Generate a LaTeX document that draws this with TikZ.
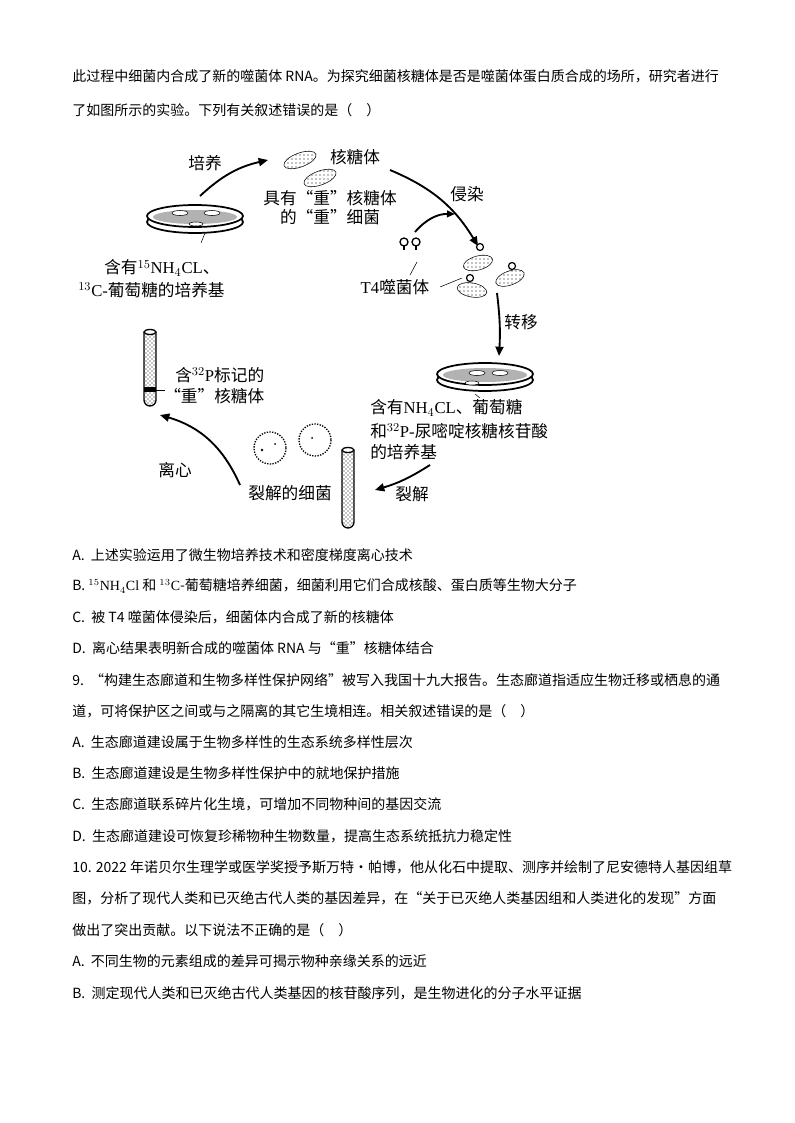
\documentclass[tikz,border=0pt]{standalone}
\usepackage{fontspec}
\setmainfont{Liberation Serif}
\newfontfamily\cjk{Noto Sans CJK SC}
\usetikzlibrary{arrows.meta,patterns}
\begin{document}
\begin{tikzpicture}[x=0.75pt,y=-0.75pt,
 txt/.style={font=\cjk\fontsize{10.5}{12}\selectfont,anchor=west,inner sep=0},
 dg/.style={font=\cjk\fontsize{12.5}{14}\selectfont,inner sep=0},
 arr/.style={line width=1.4pt,-{Triangle[length=7pt,width=6pt]}},
 dish/.style={line width=1.3pt,fill=white}]
\useasboundingbox (0,0) rectangle (794,1123);
% text above
\node[txt] (t1) at (72,76) {此过程中细菌内合成了新的噬菌体 RNA。为探究细菌核糖体是否是噬菌体蛋白质合成的场所，研究者进行};
\node[txt] (t2) at (72,110) {了如图所示的实验。下列有关叙述错误的是（\quad ）};
% dish 1
\draw[dish] (195,222) ellipse (48 and 11);
\draw[dish] (195,216) ellipse (48 and 11);
\fill[gray!60] (195,217) ellipse (42 and 7);
\draw[fill=white] (180,213) ellipse (8 and 2.5) (212,213) ellipse (8 and 2.5) (196,224) ellipse (7 and 2);
\draw (205,233)--(201,243);
\node[dg] (pe) at (205,163) {培养};
\draw[arr] (200,196) to[bend left=15] (268,160);
% ribosomes
\foreach \p in {(300,160),(320,178)} {\draw[pattern=dots,rotate around={20:\p}] \p ellipse (17 and 7);}
\node[dg] (hty) at (355,157) {核糖体};
\node[dg] (zy1) at (330,198) {具有“重”核糖体};
\node[dg] (zy2) at (330,217) {的“重”细菌};
\node[dg,anchor=west] (m1) at (104,268) {含有{\rmfamily\fontsize{12.5}{14}\selectfont$^{15}$NH$_4$CL}、};
\node[dg,anchor=west] (m2) at (78,290) {{\rmfamily\fontsize{12.5}{14}\selectfont$^{13}$C-}葡萄糖的培养基};
% infection arrow
\draw[arr] (390,170) to[bend left=18] (478,246);
\node[dg] (qr) at (467,194) {侵染};
\draw[line width=1.4pt,-{Triangle[length=6pt,width=5pt]}] (415,232) to[bend left=25] (455,214);
% phage
\foreach \x in {404,416}{\draw[line width=1pt] (\x,242) circle (4); \draw[line width=1pt] (\x,246)--(\x,250);}
\draw (417,262)--(410,275);
\node[dg] (t4) at (395,287) {{\rmfamily T4}噬菌体};
\draw (440,287)--(462,278);
\foreach \c/\r in {{(478,263)}/15,{(510,278)}/20,{(472,290)}/-10}{\draw[pattern=dots,rotate around={\r:\c}] \c ellipse (15 and 7);}
\foreach \c in {(480,247),(512,266),(470,278)}{\draw[fill=white,line width=0.9pt] \c circle (3.5);}
\draw[arr] (497,293) to[bend left=5] (499,356);
\node[dg] (zh) at (521,322) {转移};
% dish 2
\draw[dish] (485,380) ellipse (48 and 11);
\draw[dish] (485,374) ellipse (48 and 11);
\fill[gray!60] (485,375) ellipse (42 and 7);
\draw[fill=white] (477,373) ellipse (8 and 2.5) (500,373) ellipse (8 and 2.5) (472,383) ellipse (7 and 2);
\draw (475,394)--(480,398);
\node[dg,anchor=west] (n1) at (370,408) {含有{\rmfamily\fontsize{12.5}{14}\selectfont NH$_4$CL}、葡萄糖};
\node[dg,anchor=west] (n2) at (370,431) {和{\rmfamily\fontsize{12.5}{14}\selectfont$^{32}$P-}尿嘧啶核糖核苷酸};
\node[dg,anchor=west] (n3) at (370,452) {的培养基};
\draw[arr] (430,465) to[bend left=8] (375,490);
\node[dg] (lj) at (412,494) {裂解};
% tube 2
\draw[pattern=crosshatch dots,line width=1pt] (342,450) -- (342,522) arc (180:0:6) -- (354,450);
\draw[line width=1pt,fill=white] (348,450) ellipse (6 and 2.5);
% lysed bacteria
\draw[densely dotted,line width=1pt] (270,448) circle (16);
\draw[densely dotted,line width=1pt] (315,440) circle (16);
\fill[black] (262,450) circle (1.3) (275,444) circle (1) (312,438) circle (1);
\node[dg] (lb) at (290,493) {裂解的细菌};
\node[dg] (lx) at (175,470) {离心};
\draw[arr] (240,485) to[bend right=25] (160,415);
% tube 1
\draw[pattern=crosshatch dots,line width=1pt] (144,332) -- (144,400) arc (180:0:6) -- (156,332);
\fill (144,387) rectangle (156,392);
\draw (156,390)--(165,390);
\draw[line width=1pt,fill=white] (150,332) ellipse (6 and 2.5);
\node[dg,anchor=west] (p1) at (175,375) {含{\rmfamily\fontsize{12.5}{14}\selectfont$^{32}$P}标记的};
\node[dg,anchor=west] (p2) at (164,396) {“重”核糖体};
% questions
\node[txt] (a1) at (72,555) {A.\ \ 上述实验运用了微生物培养技术和密度梯度离心技术};
\node[txt] (a2) at (72,586) {B. {\rmfamily$^{15}$NH$_4$Cl} 和 {\rmfamily$^{13}$C}-葡萄糖培养细菌，细菌利用它们合成核酸、蛋白质等生物大分子};
\node[txt] (a3) at (72,617) {C.\ \ 被 T4 噬菌体侵染后，细菌体内合成了新的核糖体};
\node[txt] (a4) at (72,648) {D.\ \ 离心结果表明新合成的噬菌体 RNA 与“重”核糖体结合};
\node[txt] (b0) at (72,680) {9.\ \ “构建生态廊道和生物多样性保护网络”被写入我国十九大报告。生态廊道指适应生物迁移或栖息的通};
\node[txt] (b00) at (72,711) {道，可将保护区之间或与之隔离的其它生境相连。相关叙述错误的是（\quad ）};
\node[txt] (b1) at (72,742) {A.\ \ 生态廊道建设属于生物多样性的生态系统多样性层次};
\node[txt] (b2) at (72,773) {B.\ \ 生态廊道建设是生物多样性保护中的就地保护措施};
\node[txt] (b3) at (72,804) {C.\ \ 生态廊道联系碎片化生境，可增加不同物种间的基因交流};
\node[txt] (b4) at (72,836) {D.\ \ 生态廊道建设可恢复珍稀物种生物数量，提高生态系统抵抗力稳定性};
\node[txt] (c0) at (72,867) {10. 2022 年诺贝尔生理学或医学奖授予斯万特·帕博，他从化石中提取、测序并绘制了尼安德特人基因组草};
\node[txt] (c00) at (72,898) {图，分析了现代人类和已灭绝古代人类的基因差异，在“关于已灭绝人类基因组和人类进化的发现”方面};
\node[txt] (c000) at (72,930) {做出了突出贡献。以下说法不正确的是（\quad ）};
\node[txt] (c1) at (72,961) {A.\ \ 不同生物的元素组成的差异可揭示物种亲缘关系的远近};
\node[txt] (c2) at (72,993) {B.\ \ 测定现代人类和已灭绝古代人类基因的核苷酸序列，是生物进化的分子水平证据};
\end{tikzpicture}
\end{document}
